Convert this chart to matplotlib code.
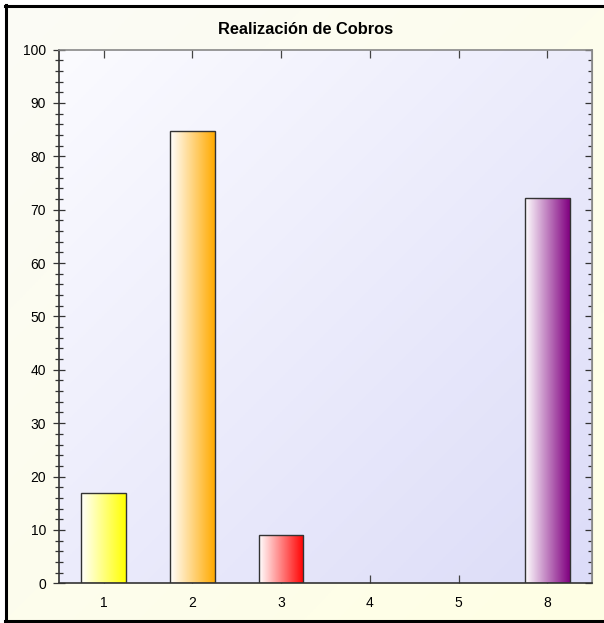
import numpy as np
import matplotlib
matplotlib.use("Agg")
import matplotlib.pyplot as plt
from matplotlib.colors import LinearSegmentedColormap, to_rgb
from matplotlib.ticker import MultipleLocator

plt.rcParams['font.family'] = ['Liberation Sans', 'DejaVu Sans']

categories = ['1', '2', '3', '4', '5', '8']
values = [17, 84.7, 9, 0, 0, 72.2]
bar_colors = ['#ffff00', '#ffaa00', '#ff0000', '#3060c0', '#30a030', '#800080']
title = 'Realización de Cobros'

W, H = 604, 623
fig = plt.figure(figsize=(W / 100, H / 100), dpi=100)
fig.patch.set_facecolor('white')

# Figure inner background (cream gradient)
bg = fig.add_axes([5 / W, 1 - 621 / H, 1 - 5 / W, (621 - 5) / H], zorder=-10)
gx, gy = np.meshgrid(np.linspace(0, 1, 200), np.linspace(0, 1, 200))
t = (gx + gy) / 2
c0 = np.array(to_rgb('#fbfbf6'))
c1 = np.array(to_rgb('#ffffe4'))
img = c0[None, None, :] * (1 - t[..., None]) + c1[None, None, :] * t[..., None]
bg.imshow(img, aspect='auto', extent=[0, 1, 0, 1], origin='upper')
bg.set_xlim(0, 1)
bg.set_ylim(0, 1)
bg.axis('off')

# Border lines (left, top, bottom)
fig.add_artist(plt.Line2D([6 / W, 6 / W], [1 - 5 / H, 1 - 621.5 / H], color='black', lw=2.2, transform=fig.transFigure))
fig.add_artist(plt.Line2D([5 / W, 1.01], [1 - 6 / H, 1 - 6 / H], color='black', lw=2.2, transform=fig.transFigure))
fig.add_artist(plt.Line2D([5 / W, 1.01], [1 - 621 / H, 1 - 621 / H], color='black', lw=2.2, transform=fig.transFigure))

left, right, top, bottom = 59.3, 591.8, 49.5, 583.3
ax = fig.add_axes([left / W, 1 - bottom / H, (right - left) / W, (bottom - top) / H])
ax.set_facecolor('none')

# Plot-area gradient
c0 = np.array(to_rgb('#fbfbff'))
c1 = np.array(to_rgb('#dcdcf8'))
img2 = c0[None, None, :] * (1 - t[..., None]) + c1[None, None, :] * t[..., None]
ax.imshow(img2, aspect='auto', extent=[-0.5, 5.5, 0, 100], origin='upper', zorder=0)

x = np.arange(len(categories))
bars = ax.bar(x, values, width=0.5, color='none', edgecolor='#333333', linewidth=1.0, zorder=3)
grad = np.linspace(0, 1, 256)[None, :]
for b, col, v in zip(bars, bar_colors, values):
    if v <= 0:
        b.set_visible(False)
        continue
    cmap = LinearSegmentedColormap.from_list('g', ['#ffffff', col])
    x0 = b.get_x()
    im = ax.imshow(grad, cmap=cmap, aspect='auto', extent=[x0, x0 + b.get_width(), 0, v], zorder=2)
    im.set_clip_path(b)

ax.set_xlim(-0.5, 5.5)
ax.set_ylim(0, 100)
ax.set_xticks(x)
ax.set_xticklabels(categories)
ax.yaxis.set_major_locator(MultipleLocator(10))
ax.yaxis.set_minor_locator(MultipleLocator(2))

ax.tick_params(axis='x', direction='in', top=True, bottom=True, length=6, width=0.9,
               color='#444444', labelsize=10, pad=9)
ax.tick_params(axis='y', which='major', direction='inout', left=True, right=False, length=9,
               width=0.9, color='#333333', labelsize=10, pad=5)
ax.tick_params(axis='y', which='minor', direction='inout', left=True, right=False, length=6,
               width=0.9, color='#333333')

# right-side ticks pointing inside
axr = ax.secondary_yaxis('right')
axr.yaxis.set_major_locator(MultipleLocator(10))
axr.yaxis.set_minor_locator(MultipleLocator(2))
axr.tick_params(which='major', direction='in', length=5, width=0.9, color='#333333', labelright=False)
axr.tick_params(which='minor', direction='in', length=3, width=0.9, color='#333333')
axr.spines['right'].set_color('#888888')

ax.spines['left'].set_color('#333333')
ax.spines['bottom'].set_color('#333333')
ax.spines['top'].set_color('#888888')
ax.spines['right'].set_color('#888888')
for s in ax.spines.values():
    s.set_linewidth(1.2)

fig.text(0.5 + 4 / W, 1 - 29 / H, title, ha='center', va='center', fontsize=11.8, fontweight='bold')

fig.savefig('out.png', dpi=100)
